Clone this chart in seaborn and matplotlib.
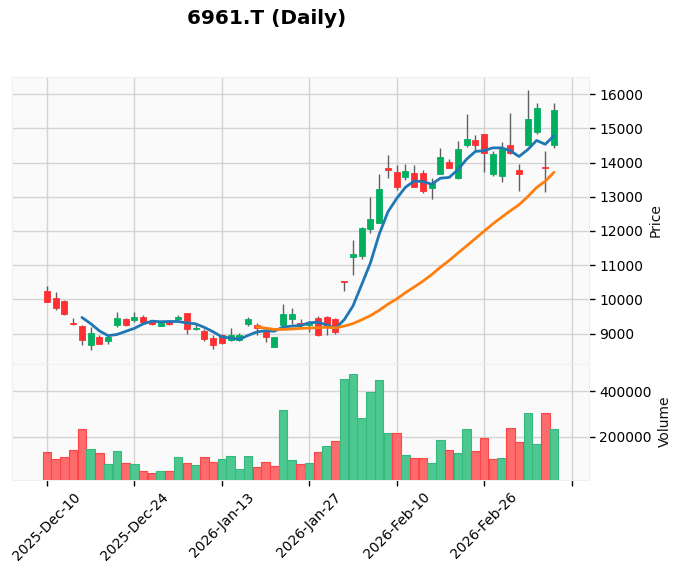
import numpy as np
import pandas as pd
import seaborn as sns
import matplotlib
matplotlib.use("Agg")
import matplotlib.pyplot as plt

# trading days shown on the chart
dates = pd.to_datetime([
    "2025-12-10", "2025-12-11", "2025-12-12", "2025-12-15", "2025-12-16",
    "2025-12-17", "2025-12-18", "2025-12-19", "2025-12-22", "2025-12-23",
    "2025-12-24", "2025-12-25", "2025-12-26", "2025-12-29", "2025-12-30",
    "2026-01-05", "2026-01-06", "2026-01-07", "2026-01-08", "2026-01-09",
    "2026-01-13", "2026-01-14", "2026-01-15", "2026-01-16", "2026-01-19",
    "2026-01-20", "2026-01-21", "2026-01-22", "2026-01-23", "2026-01-26",
    "2026-01-27", "2026-01-28", "2026-01-29", "2026-01-30", "2026-02-02",
    "2026-02-03", "2026-02-04", "2026-02-05", "2026-02-06", "2026-02-09",
    "2026-02-10", "2026-02-12", "2026-02-13", "2026-02-16", "2026-02-17",
    "2026-02-18", "2026-02-19", "2026-02-20", "2026-02-24", "2026-02-25",
    "2026-02-26", "2026-02-27", "2026-03-02", "2026-03-03", "2026-03-04",
    "2026-03-05", "2026-03-06", "2026-03-09", "2026-03-10",
])

opens = [10245, 10029, 9941, 9324, 9216, 8677, 8893, 8785, 9245, 9422,
         9402, 9481, 9363, 9236, 9373, 9422, 9598, 9128, 9069, 8873,
         8971, 8805, 8805, 9293, 9263, 9068, 8610, 9244, 9439, 9322,
         9244, 9458, 9488, 9419, 10530, 11230, 11258, 12050, 12230, 13848,
         13730, 13570, 13700, 13700, 13256, 13662, 14010, 13540, 14520, 14670,
         14836, 13663, 13620, 14503, 13770, 14501, 14893, 13860, 14520]
highs = [10392, 10225, 9970, 9471, 9240, 9187, 8951, 8951, 9637, 9471,
         9637, 9549, 9412, 9373, 9373, 9559, 9598, 9285, 9147, 8951,
         9000, 9180, 9030, 9500, 9310, 9100, 8902, 9877, 9750, 9439,
         9380, 9507, 9520, 9470, 10530, 11737, 12118, 12988, 13670, 14209,
         13916, 13965, 13926, 13780, 13550, 14420, 14100, 14625, 15423, 14790,
         14836, 14334, 14600, 15457, 13950, 16118, 15726, 14334, 15745]
lows = [9920, 9706, 9559, 9245, 8677, 8510, 8697, 8706, 9196, 9216,
        9343, 9294, 9265, 9236, 9245, 9343, 9000, 9098, 8775, 8559,
        8690, 8780, 8780, 9215, 8953, 8756, 8610, 9216, 9292, 9180,
        9049, 8941, 8951, 9000, 10240, 10720, 11180, 11938, 12230, 13540,
        13193, 13476, 13271, 13120, 12940, 13662, 13840, 13521, 14452, 14354,
        13720, 13620, 13428, 14250, 13183, 14501, 14844, 13129, 14432]
closes = [9931, 9765, 9588, 9285, 8804, 9030, 8697, 8893, 9461, 9255,
          9481, 9343, 9294, 9373, 9294, 9481, 9138, 9157, 8853, 8657,
          8727, 8971, 8971, 9420, 9166, 8910, 8900, 9566, 9566, 9244,
          9322, 8971, 9190, 9050, 10510, 11325, 12098, 12362, 13232, 13780,
          13271, 13740, 13271, 13164, 13388, 14150, 13848, 14403, 14699, 14520,
          14270, 14250, 14405, 14283, 13672, 15285, 15579, 13845, 15549]
volumes = [133333, 102222, 111111, 142222, 235556, 146667, 128889, 80000, 137778, 84444,
           80000, 48889, 40000, 48889, 48889, 111111, 84444, 75556, 111111, 88889,
           102222, 115556, 57778, 115556, 66667, 88889, 71111, 317037, 97778, 80000,
           84444, 133333, 160000, 182222, 453333, 475556, 284444, 395556, 448889, 217778,
           217778, 120000, 106667, 106667, 84444, 186667, 142222, 128889, 235556, 137778,
           195556, 102222, 106667, 240000, 177778, 306667, 168889, 306667, 235556]

df = pd.DataFrame({"Open": opens, "High": highs, "Low": lows,
                   "Close": closes, "Volume": volumes}, index=dates)
df["idx"] = np.arange(len(df))
df["mav5"] = df["Close"].rolling(5).mean()
df["mav25"] = df["Close"].rolling(25).mean()

up_c, down_c, wick_c = "#00b060", "#fe3032", "#606060"
vol_up, vol_down = "#4dc790", "#fd6b6c"

sns.set_style("whitegrid", {"axes.facecolor": "#fafafa", "grid.color": "#d0d0d0",
                            "axes.edgecolor": "#f0f0f0"})
plt.rcParams["font.family"] = ["DejaVu Sans"]
plt.rcParams["text.color"] = "k"
plt.rcParams["xtick.color"] = "k"
plt.rcParams["ytick.color"] = "k"
plt.rcParams["axes.labelcolor"] = "#101010"

fig = plt.figure(figsize=(6.79, 5.72), dpi=100)
W, H = 679, 572
ax = fig.add_axes([12 / W, (H - 363.5) / H, 577 / W, 286.5 / H])
axv = fig.add_axes([12 / W, (H - 479.5) / H, 577 / W, 116 / H], sharex=ax)

x = df["idx"].values
is_up = df["Close"] >= df["Open"]
cols = np.where(is_up, up_c, down_c)

# wicks then bodies
ax.vlines(x, df["Low"], df["High"], color=wick_c, linewidth=1.0, zorder=2)
body_lo = np.minimum(df["Open"], df["Close"])
body_h = np.abs(df["Close"] - df["Open"])
body_h = np.maximum(body_h, 12)
ax.bar(x, body_h, bottom=body_lo, width=0.69, color=cols, edgecolor=cols,
       linewidth=0.6, zorder=3)

sns.lineplot(x=x, y=df["mav5"].values, ax=ax, color="#1f77b4", linewidth=2.0, zorder=4)
sns.lineplot(x=x, y=df["mav25"].values, ax=ax, color="#ff7f0e", linewidth=2.0, zorder=4)

# volume colours follow change from previous close
vup = df["Close"].diff().fillna(-1) >= 0
vcols = np.where(vup, vol_up, vol_down)
vedge = np.where(vup, "#35b97f", "#fe4446")
axv.bar(x, df["Volume"], width=0.98, color=vcols, edgecolor=vedge, linewidth=0.8, zorder=3)

lo, hi = df["Low"].min(), df["High"].max()
pad = (hi - lo) * 0.05
ax.set_ylim(lo - pad, hi + pad)
ax.set_xlim(-4, 62)
axv.set_ylim(0.3 * df["Volume"].min(), 1.1 * df["Volume"].max())

ticks = np.arange(0, 61, 10)
axv.set_xticks(ticks)
axv.set_xticklabels([df.index[t].strftime("%Y-%b-%d") if t < len(df) else "" for t in ticks],
                    rotation=45, ha="center", fontsize=10)
ax.tick_params(axis="x", labelbottom=False, length=0)
axv.tick_params(axis="x", length=4, width=1, color="k", direction="out", bottom=True)

for a in (ax, axv):
    a.yaxis.tick_right()
    a.yaxis.set_label_position("right")
    a.tick_params(axis="y", length=4, width=1, color="k", right=True, labelsize=10)
    a.grid(True, color="#d0d0d0", alpha=0.9, linewidth=1.0)
    a.set_axisbelow(True)
    for s in a.spines.values():
        s.set_color("#f0f0f0")

ax.set_yticks(np.arange(9000, 16001, 1000))
axv.set_yticks([200000, 400000])
ax.set_ylabel("Price", fontsize=10)
axv.set_ylabel("Volume", fontsize=10)
ax.set_xlabel("")

fig.suptitle("6961.T (Daily)", x=267 / W, y=1 - 19 / H, fontsize=14.4,
             fontweight="bold", va="center", color="k")

fig.savefig("out.png", dpi=100)
